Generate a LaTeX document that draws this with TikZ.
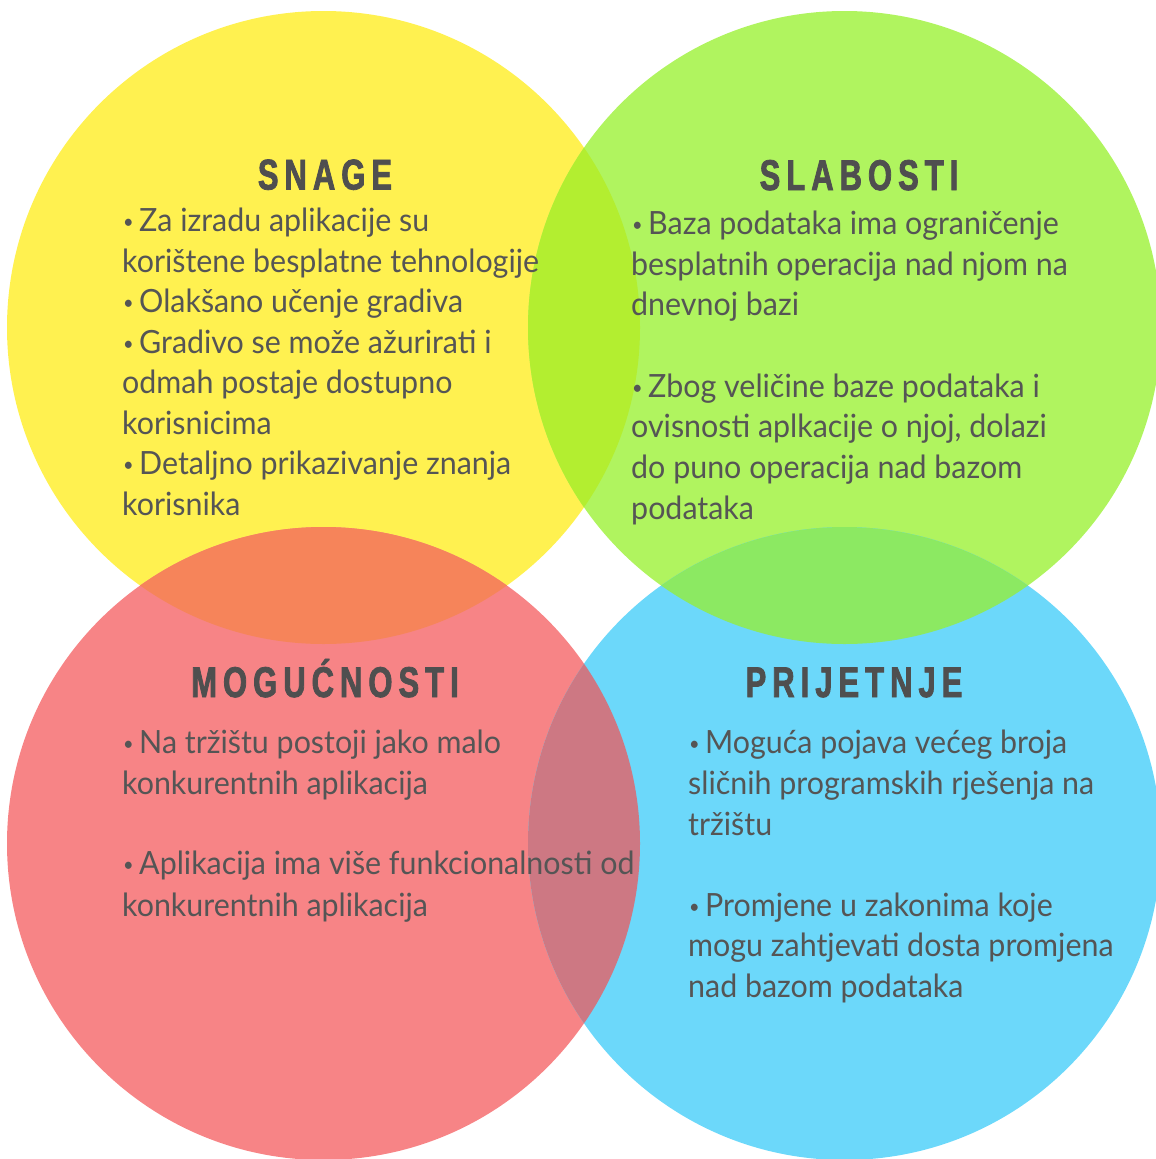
\documentclass[tikz,border=0pt]{standalone}
\usepackage{fontspec}
\usepackage{graphicx}
\newfontfamily\bodyfont{Lato}[FakeStretch=0.95]
\newfontfamily\headfont{Liberation Sans}[FakeStretch=0.72,LetterSpace=14,BoldFeatures={FakeBold=1.8}]
\definecolor{cY}{HTML}{FFF150}
\definecolor{cG}{HTML}{B0F45F}
\definecolor{cR}{HTML}{F78486}
\definecolor{cB}{HTML}{6CD8FA}
\definecolor{cYG}{HTML}{B3EE30}
\definecolor{cYR}{HTML}{F6845A}
\definecolor{cGB}{HTML}{8CE962}
\definecolor{cRB}{HTML}{CD7883}
\definecolor{txt}{HTML}{555555}
\definecolor{hd}{HTML}{4F4F4F}
\newcommand\bul{\makebox[17pt][l]{\hspace{1pt}\raisebox{3pt}{\scalebox{0.6}{•}}}}
\tikzset{
  body/.style={font=\bodyfont\fontsize{32}{36}\selectfont, text=txt, inner sep=0pt, anchor=base west},
  head/.style={font=\headfont\bfseries\fontsize{43}{46}\selectfont, text=hd, inner sep=0pt, anchor=base},
}
\def\R{316.5pt}
\begin{document}
\begin{tikzpicture}[x=1pt,y=-1pt]
\useasboundingbox (0,0) rectangle (1156,1159);
\clip (0,0) rectangle (1156,1159);
\coordinate (Yc) at (323.5,327.5);
\coordinate (Gc) at (844.5,327.5);
\coordinate (Rc) at (323.5,843.5);
\coordinate (Bc) at (844.5,843.5);
% circles
\fill[cY] (Yc) circle[radius=\R];
\fill[cG] (Gc) circle[radius=\R];
\fill[cR] (Rc) circle[radius=\R];
\fill[cB] (Bc) circle[radius=\R];
% overlaps
\begin{scope}\clip (Yc) circle[radius=\R]; \fill[cYG] (Gc) circle[radius=\R];\end{scope}
\begin{scope}\clip (Yc) circle[radius=\R]; \fill[cYR] (Rc) circle[radius=\R];\end{scope}
\begin{scope}\clip (Gc) circle[radius=\R]; \fill[cGB] (Bc) circle[radius=\R];\end{scope}
\begin{scope}\clip (Rc) circle[radius=\R]; \fill[cRB] (Bc) circle[radius=\R];\end{scope}
% headings
\node[head] (hS) at (325,189.5) {SNAGE};
\node[head] (hW) at (859,190) {SLABOSTI};
\node[head] (hO) at (325,697) {MOGUĆNOSTI};
\node[head] (hT) at (854,697) {PRIJETNJE};
% SNAGE
\node[body] (s1) at (122,231) {\bul Za izradu aplikacije su};
\node[body] (s2) at (122,272) {korištene besplatne tehnologije};
\node[body] (s3) at (122,312) {\bul Olakšano učenje gradiva};
\node[body] (s4) at (122,353) {\bul Gradivo se može ažurirati i};
\node[body] (s5) at (122,393) {odmah postaje dostupno};
\node[body] (s6) at (122,434) {korisnicima};
\node[body] (s7) at (122,474) {\bul Detaljno prikazivanje znanja};
\node[body] (s8) at (122,515) {korisnika};
% SLABOSTI
\node[body] (w1) at (631,234) {\bul Baza podataka ima ograničenje};
\node[body] (w2) at (631,275) {besplatnih operacija nad njom na};
\node[body] (w3) at (631,315) {dnevnoj bazi};
\node[body] (w4) at (631,397) {\bul Zbog veličine baze podataka i};
\node[body] (w5) at (631,437) {ovisnosti aplkacije o njoj, dolazi};
\node[body] (w6) at (631,478) {do puno operacija nad bazom};
\node[body] (w7) at (631,519) {podataka};
% MOGUCNOSTI
\node[body] (o1) at (122,753) {\bul Na tržištu postoji jako malo};
\node[body] (o2) at (122,794) {konkurentnih aplikacija};
\node[body] (o3) at (122,874) {\bul Aplikacija ima više funkcionalnosti od};
\node[body] (o4) at (122,916) {konkurentnih aplikacija};
% PRIJETNJE
\node[body] (t1) at (688,753) {\bul Moguća pojava većeg broja};
\node[body] (t2) at (688,794) {sličnih programskih rješenja na};
\node[body] (t3) at (688,835) {tržištu};
\node[body] (t4) at (688,916) {\bul Promjene u zakonima koje};
\node[body] (t5) at (688,956) {mogu zahtjevati dosta promjena};
\node[body] (t6) at (688,997) {nad bazom podataka};
\end{tikzpicture}
\end{document}
